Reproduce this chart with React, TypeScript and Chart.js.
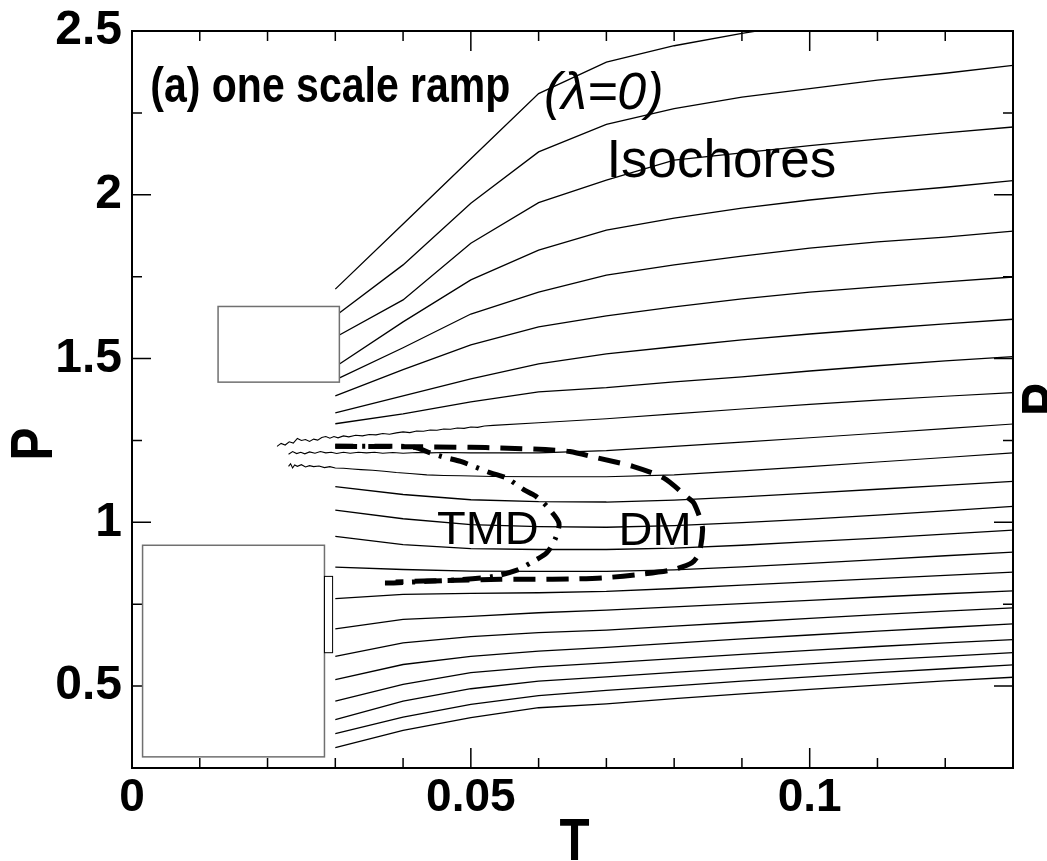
import React, { useEffect, useRef } from "react";
import { Chart, registerables } from "chart.js";

Chart.register(...registerables);

// ---------------- data ----------------
const T_GRID = [0.03, 0.04, 0.05, 0.06, 0.07, 0.08, 0.09, 0.1, 0.11, 0.12, 0.13];

const ISO_01 = [1.712, 1.911, 2.11, 2.309, 2.405, 2.455, 2.493, 2.525];
const ISO_02 = [1.63, 1.786, 1.974, 2.131, 2.215, 2.263, 2.298, 2.324, 2.35, 2.371, 2.395];
const ISO_03 = [1.565, 1.679, 1.852, 1.976, 2.045, 2.106, 2.128, 2.15, 2.17, 2.189, 2.207];
const ISO_04 = [1.475, 1.612, 1.74, 1.831, 1.892, 1.929, 1.959, 1.984, 2.005, 2.023, 2.043];
const ISO_05 = [1.435, 1.533, 1.636, 1.703, 1.755, 1.786, 1.813, 1.837, 1.856, 1.871, 1.889];
const ISO_06 = [1.386, 1.466, 1.542, 1.597, 1.63, 1.658, 1.682, 1.703, 1.719, 1.734, 1.749];
const ISO_07 = [1.334, 1.386, 1.438, 1.484, 1.514, 1.536, 1.557, 1.575, 1.591, 1.606, 1.62];
const ISO_08 = [1.301, 1.331, 1.368, 1.398, 1.411, 1.429, 1.444, 1.462, 1.478, 1.493, 1.506];
const ISO_12 = [1.109, 1.085, 1.069, 1.063, 1.062, 1.068, 1.078, 1.089, 1.101, 1.113, 1.125];
const ISO_13 = [1.037, 1.011, 0.993, 0.987, 0.985, 0.99, 0.999, 1.01, 1.022, 1.035, 1.049];
const ISO_14 = [0.957, 0.932, 0.92, 0.917, 0.917, 0.921, 0.93, 0.941, 0.952, 0.964, 0.976];
const ISO_15 = [0.863, 0.856, 0.851, 0.85, 0.85, 0.855, 0.864, 0.875, 0.886, 0.898, 0.909];
const ISO_16 = [0.767, 0.78, 0.783, 0.785, 0.789, 0.798, 0.808, 0.818, 0.828, 0.838, 0.848];
const ISO_17 = [0.675, 0.704, 0.713, 0.724, 0.732, 0.742, 0.752, 0.762, 0.772, 0.782, 0.791];
const ISO_18 = [0.591, 0.632, 0.651, 0.663, 0.671, 0.683, 0.695, 0.707, 0.718, 0.729, 0.739];
const ISO_19 = [0.52, 0.566, 0.591, 0.607, 0.618, 0.631, 0.644, 0.656, 0.668, 0.679, 0.69];
const ISO_20 = [0.454, 0.505, 0.541, 0.559, 0.571, 0.584, 0.597, 0.609, 0.621, 0.632, 0.642];
const ISO_21 = [0.398, 0.454, 0.492, 0.515, 0.528, 0.542, 0.555, 0.568, 0.58, 0.591, 0.602];
const ISO_22 = [0.355, 0.405, 0.444, 0.471, 0.487, 0.501, 0.515, 0.528, 0.541, 0.553, 0.565];
const ISO_23 = [0.312, 0.365, 0.404, 0.434, 0.446, 0.462, 0.476, 0.49, 0.503, 0.516, 0.527];

// isochores with noisy low-temperature parts
const ISO_09_T = [0.0214, 0.022, 0.0226, 0.0232, 0.0238, 0.0244, 0.025, 0.0256, 0.0262, 0.0268, 0.0274, 0.028, 0.0286, 0.0292, 0.0298, 0.0304, 0.0312, 0.032, 0.033, 0.034, 0.035, 0.036, 0.037, 0.038, 0.039, 0.04, 0.041, 0.042, 0.043, 0.044, 0.045, 0.046, 0.047, 0.048, 0.049, 0.05, 0.051, 0.052, 0.0533, 0.06, 0.07, 0.08, 0.09, 0.1, 0.11, 0.12, 0.13];
const ISO_09_P = [1.232, 1.241, 1.236, 1.246, 1.242, 1.256, 1.25, 1.253, 1.247, 1.254, 1.251, 1.259, 1.262, 1.257, 1.262, 1.258, 1.264, 1.261, 1.266, 1.264, 1.268, 1.267, 1.271, 1.269, 1.273, 1.276, 1.274, 1.279, 1.278, 1.282, 1.281, 1.285, 1.284, 1.288, 1.287, 1.291, 1.29, 1.294, 1.296, 1.304, 1.316, 1.331, 1.346, 1.36, 1.373, 1.385, 1.396];
const ISO_10_T = [0.0231, 0.0237, 0.0243, 0.0249, 0.0255, 0.0262, 0.027, 0.0278, 0.0286, 0.0294, 0.0302, 0.0312, 0.0322, 0.0334, 0.0346, 0.0358, 0.037, 0.0385, 0.04, 0.042, 0.044, 0.046, 0.05, 0.06, 0.07, 0.08, 0.09, 0.1, 0.11, 0.12, 0.13];
const ISO_10_P = [1.208, 1.216, 1.21, 1.214, 1.209, 1.215, 1.211, 1.216, 1.212, 1.214, 1.21, 1.214, 1.211, 1.214, 1.212, 1.214, 1.211, 1.213, 1.211, 1.213, 1.212, 1.213, 1.212, 1.212, 1.219, 1.232, 1.245, 1.258, 1.272, 1.286, 1.3];
const ISO_11_T = [0.0231, 0.0234, 0.0237, 0.024, 0.0244, 0.025, 0.0256, 0.0262, 0.0268, 0.0276, 0.0284, 0.0292, 0.03, 0.0312, 0.0325, 0.0338, 0.0355, 0.0372, 0.039, 0.041, 0.0435, 0.046, 0.0485, 0.0533, 0.06, 0.07, 0.08, 0.09, 0.1, 0.11, 0.12, 0.13];
const ISO_11_P = [1.171, 1.179, 1.166, 1.175, 1.171, 1.176, 1.169, 1.173, 1.17, 1.172, 1.167, 1.17, 1.166, 1.165, 1.163, 1.161, 1.159, 1.156, 1.152, 1.149, 1.145, 1.143, 1.142, 1.14, 1.139, 1.139, 1.145, 1.157, 1.17, 1.184, 1.198, 1.212];

// density maximum (DM) and temperature of maximum density (TMD) lines
const DM_T = [0.03, 0.04, 0.05, 0.0544, 0.061, 0.0646, 0.0688, 0.0739, 0.0785, 0.0821, 0.0829, 0.0839, 0.0842, 0.0837, 0.0826, 0.0795, 0.0749, 0.0698, 0.0646, 0.0595, 0.0544, 0.048, 0.043, 0.0389];
const DM_P = [1.232, 1.231, 1.229, 1.227, 1.222, 1.216, 1.196, 1.171, 1.135, 1.074, 1.059, 1.008, 0.978, 0.907, 0.876, 0.854, 0.841, 0.831, 0.827, 0.826, 0.826, 0.823, 0.821, 0.818];
const TMD_T = [0.03, 0.0396, 0.0421, 0.044, 0.0462, 0.0485, 0.0529, 0.0553, 0.0578, 0.0595, 0.0612, 0.063, 0.0625, 0.0612, 0.0588, 0.0568, 0.0534, 0.0485, 0.0435, 0.0386, 0.0362];
const TMD_P = [1.232, 1.232, 1.227, 1.212, 1.198, 1.186, 1.151, 1.135, 1.1, 1.081, 1.049, 0.998, 0.952, 0.907, 0.876, 0.854, 0.835, 0.825, 0.82, 0.815, 0.815];

// axes
const X_TICKS = [0, 0.01, 0.02, 0.03, 0.04, 0.05, 0.06, 0.07, 0.08, 0.09, 0.1, 0.11, 0.12, 0.13];
const X_TICK_LABELS = ["0", "", "", "", "", "0.05", "", "", "", "", "0.1", "", "", ""];
const Y_TICKS = [0.25, 0.5, 0.75, 1, 1.25, 1.5, 1.75, 2, 2.25, 2.5];
const Y_TICK_LABELS = ["", "0.5", "", "1", "", "1.5", "", "2", "", "2.5"];

// ---------------- styling / annotations ----------------
const SANS = '"Liberation Sans", Arial, sans-serif';
const TICK_FAMILY = '"Liberation Sans Narrow", "Liberation Sans", Arial, sans-serif';

const BOXES = [
  { t0: 0.0127, t1: 0.0306, p0: 1.428, p1: 1.659, color: "#707070", width: 1.5 },
  { t0: 0.00156, t1: 0.0284, p0: 0.284, p1: 0.93, color: "#707070", width: 1.5 },
  { t0: 0.0284, t1: 0.0296, p0: 0.602, p1: 0.835, color: "#000000", width: 1 },
];

const NOTES = [
  { text: "(a) one scale ramp", t: 0.0027, p: 2.284, font: `bold 50px ${SANS}`, sx: 0.82 },
  { text: "(λ=0)", t: 0.0608, p: 2.262, font: `italic 52px ${SANS}`, sx: 1 },
  { text: "Isochores", t: 0.07, p: 2.054, font: `53px ${SANS}`, sx: 1 },
  { text: "TMD", t: 0.045, p: 0.935, font: `47px ${SANS}`, sx: 1 },
  { text: "DM", t: 0.0718, p: 0.932, font: `47px ${SANS}`, sx: 1 },
];

function drawLabel(ctx: CanvasRenderingContext2D, text: string, x: number, y: number, font: string, sx: number, align: CanvasTextAlign, rot: number) {
  ctx.save();
  ctx.translate(x, y);
  if (rot) ctx.rotate(rot);
  ctx.scale(sx, 1);
  ctx.font = font;
  ctx.textAlign = align;
  ctx.textBaseline = "alphabetic";
  ctx.fillStyle = "#000";
  ctx.fillText(text, 0, 0);
  ctx.restore();
}

const decorPlugin = {
  id: "decor",
  afterDraw(chart: any) {
    const { ctx, chartArea: a } = chart;
    const xs = chart.scales.x;
    const ys = chart.scales.y;
    ctx.save();
    ctx.strokeStyle = "#000";
    ctx.lineWidth = 1.5;
    X_TICKS.forEach((v, i) => {
      const px = xs.getPixelForValue(v);
      const len = X_TICK_LABELS[i] ? 20 : 10;
      ctx.beginPath();
      ctx.moveTo(px, a.bottom);
      ctx.lineTo(px, a.bottom - len);
      ctx.moveTo(px, a.top);
      ctx.lineTo(px, a.top + len);
      ctx.stroke();
    });
    Y_TICKS.forEach((v, i) => {
      const py = ys.getPixelForValue(v);
      const len = Y_TICK_LABELS[i] ? 19 : 10;
      ctx.beginPath();
      ctx.moveTo(a.left, py);
      ctx.lineTo(a.left + len, py);
      ctx.moveTo(a.right, py);
      ctx.lineTo(a.right - len, py);
      ctx.stroke();
    });
    ctx.lineWidth = 2;
    ctx.strokeRect(a.left, a.top, a.right - a.left, a.bottom - a.top);

    BOXES.forEach((b) => {
      const x0 = xs.getPixelForValue(b.t0);
      const x1 = xs.getPixelForValue(b.t1);
      const y0 = ys.getPixelForValue(b.p1);
      const y1 = ys.getPixelForValue(b.p0);
      ctx.fillStyle = "#fff";
      ctx.fillRect(x0, y0, x1 - x0, y1 - y0);
      ctx.strokeStyle = b.color;
      ctx.lineWidth = b.width;
      ctx.strokeRect(x0, y0, x1 - x0, y1 - y0);
    });

    NOTES.forEach((n) => {
      drawLabel(ctx, n.text, xs.getPixelForValue(n.t), ys.getPixelForValue(n.p), n.font, n.sx, "left", 0);
    });

    const titleFont = `bold 60px ${SANS}`;
    drawLabel(ctx, "T", (a.left + a.right) / 2 + 2, a.bottom + 92, titleFont, 0.82, "center", 0);
    drawLabel(ctx, "P", a.left - 80, 444, titleFont, 0.82, "center", -Math.PI / 2);
    drawLabel(ctx, "P", a.right + 50, (a.top + a.bottom) / 2, titleFont, 0.82, "center", -Math.PI / 2);
    ctx.restore();
  },
};

function toPoints(xs: number[], ys: number[]) {
  return ys.map((y, i) => ({ x: xs[i], y }));
}

export default function App() {
  const ref = useRef<HTMLCanvasElement>(null);

  useEffect(() => {
    const smooth = [ISO_01, ISO_02, ISO_03, ISO_04, ISO_05, ISO_06, ISO_07, ISO_08, ISO_12, ISO_13, ISO_14, ISO_15, ISO_16, ISO_17, ISO_18, ISO_19, ISO_20, ISO_21, ISO_22, ISO_23];
    const isoSets: any[] = smooth.map((arr) => ({
      data: toPoints(T_GRID, arr),
      borderColor: "#000",
      borderWidth: 1.3,
      pointRadius: 0,
      showLine: true,
      tension: 0,
      order: 2,
    }));
    const noisy = [
      [ISO_09_T, ISO_09_P],
      [ISO_10_T, ISO_10_P],
      [ISO_11_T, ISO_11_P],
    ];
    noisy.forEach(([t, p]) =>
      isoSets.push({
        data: toPoints(t, p),
        borderColor: "#000",
        borderWidth: 1.1,
        pointRadius: 0,
        showLine: true,
        tension: 0,
        order: 2,
      })
    );
    const datasets: any[] = [
      {
        data: toPoints(DM_T, DM_P),
        borderColor: "#000",
        borderWidth: 5,
        borderDash: [22, 11],
        borderCapStyle: "butt",
        pointRadius: 0,
        showLine: true,
        tension: 0.25,
        order: 0,
      },
      {
        data: toPoints(TMD_T, TMD_P),
        borderColor: "#000",
        borderWidth: 5,
        borderDash: [18, 9, 3, 9],
        borderCapStyle: "butt",
        pointRadius: 0,
        showLine: true,
        tension: 0.25,
        order: 0,
      },
      ...isoSets,
    ];

    const chart = new Chart(ref.current as HTMLCanvasElement, {
      type: "scatter",
      data: { datasets },
      options: {
        animation: false,
        responsive: false,
        maintainAspectRatio: false,
        layout: { padding: { left: 0, right: 34, top: 31, bottom: 0 } },
        plugins: {
          legend: { display: false },
          tooltip: { enabled: false },
          title: { display: false },
        },
        scales: {
          x: {
            type: "linear",
            min: 0,
            max: 0.13,
            afterFit: (s: any) => {
              s.height = 93;
              s.paddingLeft = 0;
              s.paddingRight = 0;
            },
            afterBuildTicks: (s: any) => {
              s.ticks = X_TICKS.map((v) => ({ value: v }));
            },
            grid: { display: false, drawTicks: false },
            border: { display: false },
            ticks: {
              autoSkip: false,
              maxRotation: 0,
              minRotation: 0,
              padding: 3,
              color: "#000",
              font: { family: TICK_FAMILY, size: 46, weight: "bold" },
              callback: (_v: any, i: number) => X_TICK_LABELS[i],
            },
          },
          y: {
            type: "linear",
            min: 0.25,
            max: 2.5,
            afterFit: (s: any) => {
              s.width = 132;
              s.paddingTop = 0;
              s.paddingBottom = 0;
            },
            afterBuildTicks: (s: any) => {
              s.ticks = Y_TICKS.map((v) => ({ value: v }));
            },
            grid: { display: false, drawTicks: false },
            border: { display: false },
            ticks: {
              autoSkip: false,
              padding: 10,
              color: "#000",
              font: { family: TICK_FAMILY, size: 48, weight: "bold" },
              callback: (_v: any, i: number) => Y_TICK_LABELS[i],
            },
          },
        },
      } as any,
      plugins: [decorPlugin],
    });
    return () => chart.destroy();
  }, []);

  return (
    <div style={{ position: "fixed", left: 0, top: 0, width: 1047, height: 861, background: "#fff" }}>
      <canvas ref={ref} width={1047} height={861} style={{ display: "block", width: 1047, height: 861 }} />
    </div>
  );
}
